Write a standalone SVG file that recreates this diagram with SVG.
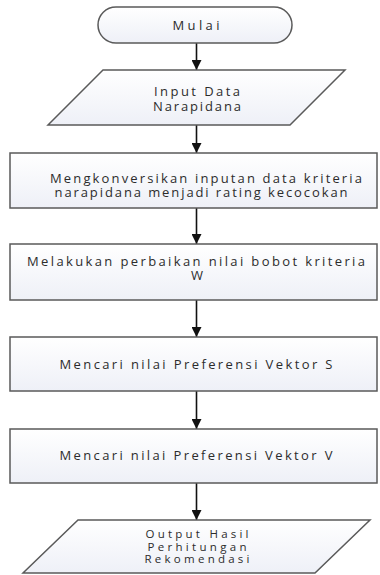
<svg xmlns="http://www.w3.org/2000/svg" width="380" height="575" viewBox="0 0 380 575">
  <defs>
    <linearGradient id="fillGrad" x1="0" y1="0" x2="0" y2="1">
      <stop offset="0" stop-color="#ffffff"/>
      <stop offset="1" stop-color="#eef0f7"/>
    </linearGradient>
    <marker id="arrow" viewBox="0 0 10 10" refX="10" refY="5" markerWidth="10" markerHeight="10" markerUnits="userSpaceOnUse" orient="auto">
      <path d="M0,0 L10,5 L0,10 z" fill="#111"/>
    </marker>
  </defs>
  <style>
    .shape { fill: url(#fillGrad); stroke: #5a5a5a; stroke-width: 1.5; }
    .label { font-family: "Open Sans", "Liberation Sans", sans-serif; font-size: 13px; font-weight: 500; fill: #2c2c2c; text-anchor: middle; }
    .small { font-size: 11.5px; }
    .conn { stroke: #111; stroke-width: 1.6; fill: none; marker-end: url(#arrow); }
  </style>
  <rect width="380" height="575" fill="#ffffff"/>

  <g id="connectors">
    <line class="conn" x1="196.5" y1="43" x2="196.5" y2="70"/>
    <line class="conn" x1="196.5" y1="125" x2="196.5" y2="153"/>
    <line class="conn" x1="196.5" y1="208" x2="196.5" y2="244"/>
    <line class="conn" x1="196.5" y1="300" x2="196.5" y2="337"/>
    <line class="conn" x1="196.5" y1="391" x2="196.5" y2="429"/>
    <line class="conn" x1="196.5" y1="483" x2="196.5" y2="520"/>
  </g>

  <g id="start">
    <rect class="shape" x="98" y="7" width="194" height="36" rx="18" ry="18"/>
    <text class="label" x="196" y="30" textLength="47" lengthAdjust="spacing">Mulai</text>
  </g>

  <g id="input">
    <polygon class="shape" points="103,70 345,70 290,125 48,125"/>
    <text class="label" x="197" y="96" textLength="86" lengthAdjust="spacing">Input Data</text>
    <text class="label" x="197" y="111" textLength="88" lengthAdjust="spacing">Narapidana</text>
  </g>

  <g id="convert">
    <rect class="shape" x="10" y="153" width="367" height="55"/>
    <text class="label" x="206" y="183" textLength="312" lengthAdjust="spacing">Mengkonversikan inputan data kriteria</text>
    <text class="label" x="201" y="197" textLength="293" lengthAdjust="spacing">narapidana menjadi rating kecocokan</text>
  </g>

  <g id="weights">
    <rect class="shape" x="10" y="244" width="367" height="56"/>
    <text class="label" x="196" y="266" textLength="338" lengthAdjust="spacing">Melakukan perbaikan nilai bobot kriteria</text>
    <text class="label" x="197" y="280">W</text>
  </g>

  <g id="vector-s">
    <rect class="shape" x="10" y="337" width="367" height="54"/>
    <text class="label" x="196" y="369" textLength="273" lengthAdjust="spacing">Mencari nilai Preferensi Vektor S</text>
  </g>

  <g id="vector-v">
    <rect class="shape" x="10" y="429" width="367" height="54"/>
    <text class="label" x="196" y="460" textLength="273" lengthAdjust="spacing">Mencari nilai Preferensi Vektor V</text>
  </g>

  <g id="output">
    <polygon class="shape" points="78,520 370,520 315,573 23,573"/>
    <text class="label small" x="197" y="538" textLength="103" lengthAdjust="spacing">Output Hasil</text>
    <text class="label small" x="197" y="550.5" textLength="99" lengthAdjust="spacing">Perhitungan</text>
    <text class="label small" x="197" y="563" textLength="105" lengthAdjust="spacing">Rekomendasi</text>
  </g>
</svg>
